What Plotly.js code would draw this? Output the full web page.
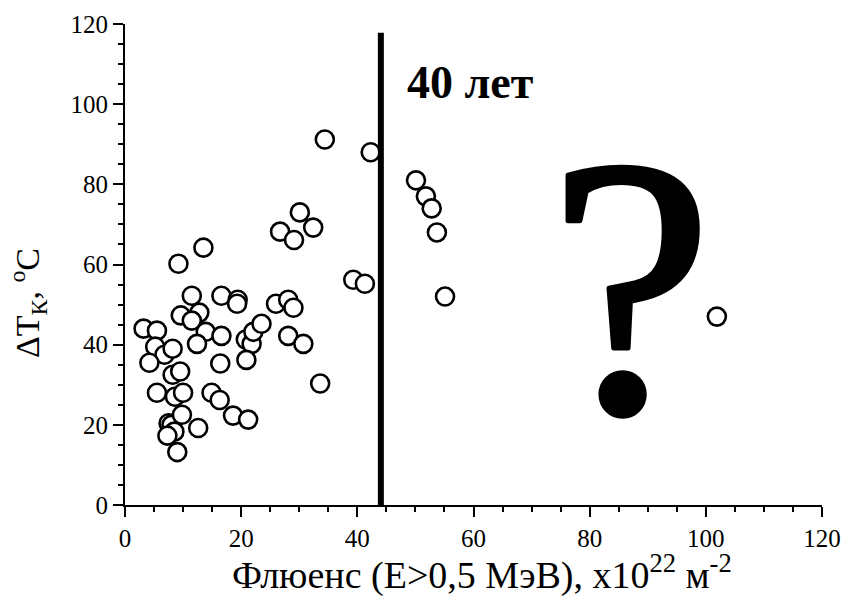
<!DOCTYPE html>
<html>
<head>
<meta charset="utf-8">
<script src="https://cdn.plot.ly/plotly-3.0.1.min.js"></script>
<style>html,body{margin:0;padding:0;background:#fff;}#chart{width:843px;height:598px;}</style>
</head>
<body>
<div id="chart"></div>
<script>
// Fluence (x10^22 m^-2)
const fluence = [3.2, 5.5, 5.2, 6.8, 8.2, 4.2, 8.2, 9.5, 5.5, 8.6, 10.0, 7.5, 8.0, 8.5, 7.3, 9.8, 12.6, 9.0,
  9.6, 12.8, 11.5, 11.5, 13.9, 12.4, 9.2, 13.5, 16.6, 16.6, 16.4, 14.9, 16.3, 18.6, 21.2,
  19.4, 19.3, 20.8, 21.8, 22.1, 23.5, 20.9, 26.0, 28.1, 29.0, 28.1, 30.7, 26.7, 29.1, 30.1, 32.4,
  34.4, 33.6, 39.3, 41.3, 42.3, 50.1, 51.8, 52.8, 53.7, 55.1, 101.9];
// Shift of transition temperature, °C
const deltaT = [44, 43.5, 39.5, 37.5, 39, 35.5, 32.5, 33.3, 28, 27, 28, 20.4, 20, 18.3, 17.3, 22.5, 19.2, 13.2,
  47.3, 48, 46, 52.2, 43.2, 40.2, 60.2, 64.2, 52.2, 42.2, 35.3, 28, 26.2, 22.3, 21.3,
  51.2, 50.2, 41.3, 40.2, 43.2, 45.2, 36.2, 50.2, 51.2, 49.2, 42.2, 40.2, 68.2, 66.1, 73, 69.2,
  91.2, 30.3, 56.2, 55.2, 88, 81, 77, 74, 68, 52, 47];
const xTicks = [0, 20, 40, 60, 80, 100, 120];
const yTicks = [0, 20, 40, 60, 80, 100, 120];
const limitFluence = 44.05;
const limitTop = 117.8;
const limitLabel = '40 лет';
const xTitle = 'Флюенс (E>0,5 МэВ), x10<sup>22</sup> м<sup>-2</sup>';
const yTitle = 'ΔT<sub>К</sub>, <sup>o</sup>C';

const font = "'Liberation Serif'";

const axisCommon = {
  range: [0, 120],
  showgrid: false,
  zeroline: false,
  showline: true,
  linecolor: '#000',
  linewidth: 2,
  ticks: 'outside',
  ticklen: 10,
  tickwidth: 2,
  tickcolor: '#000',
  tickfont: {family: font, size: 25, color: '#000'},
  minor: {dtick: 5, ticks: 'outside', ticklen: 5, tickwidth: 2, tickcolor: '#000', showgrid: false},
  fixedrange: true
};

const trace = {
  x: fluence,
  y: deltaT,
  type: 'scatter',
  mode: 'markers',
  marker: {symbol: 'circle', size: 18, color: '#fff', line: {color: '#000', width: 2.6}},
  hoverinfo: 'skip'
};

const layout = {
  width: 843,
  height: 598,
  margin: {l: 125, r: 21, t: 24, b: 93},
  paper_bgcolor: '#fff',
  plot_bgcolor: '#fff',
  showlegend: false,
  font: {family: font, color: '#000'},
  xaxis: Object.assign({}, axisCommon, {tickvals: xTicks, ticktext: xTicks.map(String)}),
  yaxis: Object.assign({}, axisCommon, {tickvals: yTicks, ticktext: yTicks.map(String)}),
  shapes: [{
    type: 'line', xref: 'x', yref: 'y', layer: 'above',
    x0: limitFluence, x1: limitFluence, y0: 0, y1: limitTop,
    line: {color: '#000', width: 6}
  }],
  annotations: [
    {xref: 'x', yref: 'y', x: 59.4, y: 105.3, text: '<b>' + limitLabel + '</b>', showarrow: false,
     xanchor: 'center', yanchor: 'middle', font: {family: font, size: 46, color: '#000'}},
    {xref: 'x', yref: 'y', x: 87.1, y: 54.3, text: '?', showarrow: false,
     xanchor: 'center', yanchor: 'middle', font: {family: font, size: 368, color: '#000'}},
    {xref: 'paper', yref: 'paper', x: 0.512, y: -0.14, text: xTitle, showarrow: false,
     xanchor: 'center', yanchor: 'middle', font: {family: font, size: 38, color: '#000'}},
    {xref: 'paper', yref: 'paper', x: -0.139, y: 0.42, text: yTitle, showarrow: false, textangle: -90,
     xanchor: 'center', yanchor: 'middle', font: {family: font, size: 34, color: '#000'}}
  ]
};

Plotly.newPlot('chart', [trace], layout, {displayModeBar: false, staticPlot: true}).then(function (gd) {
  // thicken the large question mark glyph to match the heavier reference stroke
  const txt = gd.querySelectorAll('.annotation-text');
  if (txt[1]) {
    txt[1].style.stroke = '#000';
    txt[1].style.strokeWidth = '5px';
    txt[1].style.strokeLinejoin = 'round';
  }
});
</script>
</body>
</html>
